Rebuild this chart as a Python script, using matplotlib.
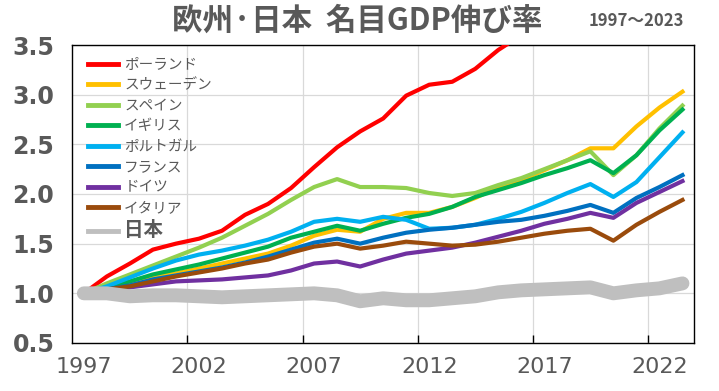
import matplotlib
matplotlib.use("Agg")
import matplotlib.pyplot as plt
from matplotlib.lines import Line2D
import numpy as np

plt.rcParams['font.family'] = ['Noto Sans CJK JP', 'DejaVu Sans']

years = list(range(1997, 2024))

# 1997 = 1.0
poland   = [1.00, 1.17, 1.30, 1.44, 1.50, 1.55, 1.63, 1.79, 1.90, 2.06, 2.27, 2.47, 2.63, 2.76,
            2.99, 3.10, 3.13, 3.26, 3.45, 3.60, 3.82, 4.06, 4.35, 4.43, 4.94, 5.67, 6.42]
sweden   = [1.00, 1.04, 1.10, 1.17, 1.20, 1.25, 1.30, 1.35, 1.40, 1.48, 1.58, 1.64, 1.62, 1.75,
            1.81, 1.81, 1.87, 1.96, 2.07, 2.14, 2.24, 2.34, 2.46, 2.46, 2.68, 2.87, 3.03]
spain    = [1.00, 1.10, 1.19, 1.28, 1.37, 1.46, 1.56, 1.68, 1.80, 1.94, 2.07, 2.15, 2.07, 2.07,
            2.06, 2.01, 1.98, 2.01, 2.09, 2.16, 2.25, 2.34, 2.43, 2.19, 2.39, 2.66, 2.89]
uk       = [1.00, 1.06, 1.12, 1.19, 1.24, 1.29, 1.35, 1.41, 1.47, 1.56, 1.62, 1.68, 1.63, 1.70,
            1.76, 1.80, 1.87, 1.97, 2.04, 2.11, 2.19, 2.26, 2.34, 2.21, 2.39, 2.64, 2.85]
portugal = [1.00, 1.07, 1.16, 1.25, 1.33, 1.39, 1.43, 1.48, 1.54, 1.62, 1.72, 1.75, 1.72, 1.77,
            1.74, 1.65, 1.66, 1.69, 1.75, 1.82, 1.91, 2.01, 2.10, 1.97, 2.12, 2.37, 2.62]
france   = [1.00, 1.04, 1.08, 1.14, 1.18, 1.22, 1.26, 1.31, 1.37, 1.44, 1.51, 1.55, 1.50, 1.56,
            1.61, 1.64, 1.66, 1.69, 1.72, 1.74, 1.78, 1.83, 1.89, 1.81, 1.96, 2.07, 2.19]
germany  = [1.00, 1.03, 1.06, 1.09, 1.12, 1.13, 1.14, 1.16, 1.18, 1.23, 1.30, 1.32, 1.27, 1.34,
            1.40, 1.43, 1.46, 1.51, 1.57, 1.63, 1.70, 1.75, 1.81, 1.76, 1.91, 2.02, 2.13]
italy    = [1.00, 1.04, 1.07, 1.12, 1.17, 1.21, 1.25, 1.30, 1.34, 1.41, 1.47, 1.50, 1.45, 1.48,
            1.52, 1.50, 1.48, 1.49, 1.52, 1.56, 1.60, 1.63, 1.65, 1.53, 1.69, 1.82, 1.94]
japan    = [1.00, 1.00, 0.97, 0.98, 0.98, 0.97, 0.96, 0.97, 0.98, 0.99, 1.00, 0.98, 0.92, 0.95,
            0.93, 0.93, 0.95, 0.97, 1.01, 1.03, 1.04, 1.05, 1.06, 1.00, 1.03, 1.05, 1.10]

names  = ['ポーランド', 'スウェーデン', 'スペイン', 'イギリス', 'ポルトガル', 'フランス', 'ドイツ', 'イタリア', '日本']
series = [poland, sweden, spain, uk, portugal, france, germany, italy, japan]
colors = ['#FF0000', '#FFC000', '#92D050', '#00B050', '#00B0F0', '#0070C0', '#7030A0', '#9A4B0C', '#BFBFBF']

xlabels = [1997, 2002, 2007, 2012, 2017, 2022]
gray_txt = '#595959'

fig = plt.figure(figsize=(7.19, 3.91), dpi=100)
ax = fig.add_axes([0.1006, 0.1228, 0.8646, 0.7621])

for i, (name, vals, c) in enumerate(zip(names, series, colors)):
    if name == '日本':
        ax.plot(years, vals, color=c, lw=10, solid_capstyle='round', solid_joinstyle='round', zorder=3 + i)
    else:
        ax.plot(years, vals, color=c, lw=3, solid_joinstyle='round', zorder=3 + i)

ax.set_xlim(1996.5, 2023.5)
ax.set_ylim(0.5, 3.5)

# category boundaries carry the ticks / gridlines, labels sit on the categories
ax.set_xticks([y + 4.5 for y in xlabels[:-1]])
ax.set_xticklabels([])
ax.set_xticks(xlabels, minor=True)
ax.set_xticklabels([str(y) for y in xlabels], minor=True)
ax.tick_params(axis='x', which='major', direction='in', length=6, width=1, color='black')
ax.tick_params(axis='x', which='minor', length=0, pad=10, labelsize=16, labelcolor=gray_txt)

ax.set_yticks(np.arange(0.5, 3.51, 0.5))
ax.set_yticklabels(['%.1f' % v for v in np.arange(0.5, 3.51, 0.5)])
ax.tick_params(axis='y', length=0, pad=13, labelsize=17, labelcolor=gray_txt)
for t in ax.get_yticklabels():
    t.set_fontweight('bold')
    t.set_family('DejaVu Sans')
for t in ax.get_xticklabels(minor=True):
    t.set_family('DejaVu Sans')

ax.grid(True, which='major', color='#D9D9D9', lw=0.9)
ax.set_axisbelow(True)
for s in ax.spines.values():
    s.set_color('black')
    s.set_linewidth(1)

handles = [Line2D([], [], color=c, lw=3.5) for c in colors]
leg = ax.legend(handles, names, loc='upper left', bbox_to_anchor=(0.026, 0.956),
                frameon=False, borderpad=0, borderaxespad=0, fontsize=10.5,
                handlelength=2.05, handletextpad=0.4, labelspacing=0.44)
for t in leg.get_texts():
    t.set_color(gray_txt)
leg.get_texts()[-1].set_fontsize(14)
leg.get_texts()[-1].set_fontweight('bold')

fig.text(0.497, 0.946, '欧州·日本  名目GDP伸び率', ha='center', va='center',
         fontsize=22, fontweight='bold', color=gray_txt)
fig.text(0.885, 0.946, '1997〜2023', ha='center', va='center',
         fontsize=12, fontweight='bold', color=gray_txt)

fig.savefig('out.png', dpi=100)
